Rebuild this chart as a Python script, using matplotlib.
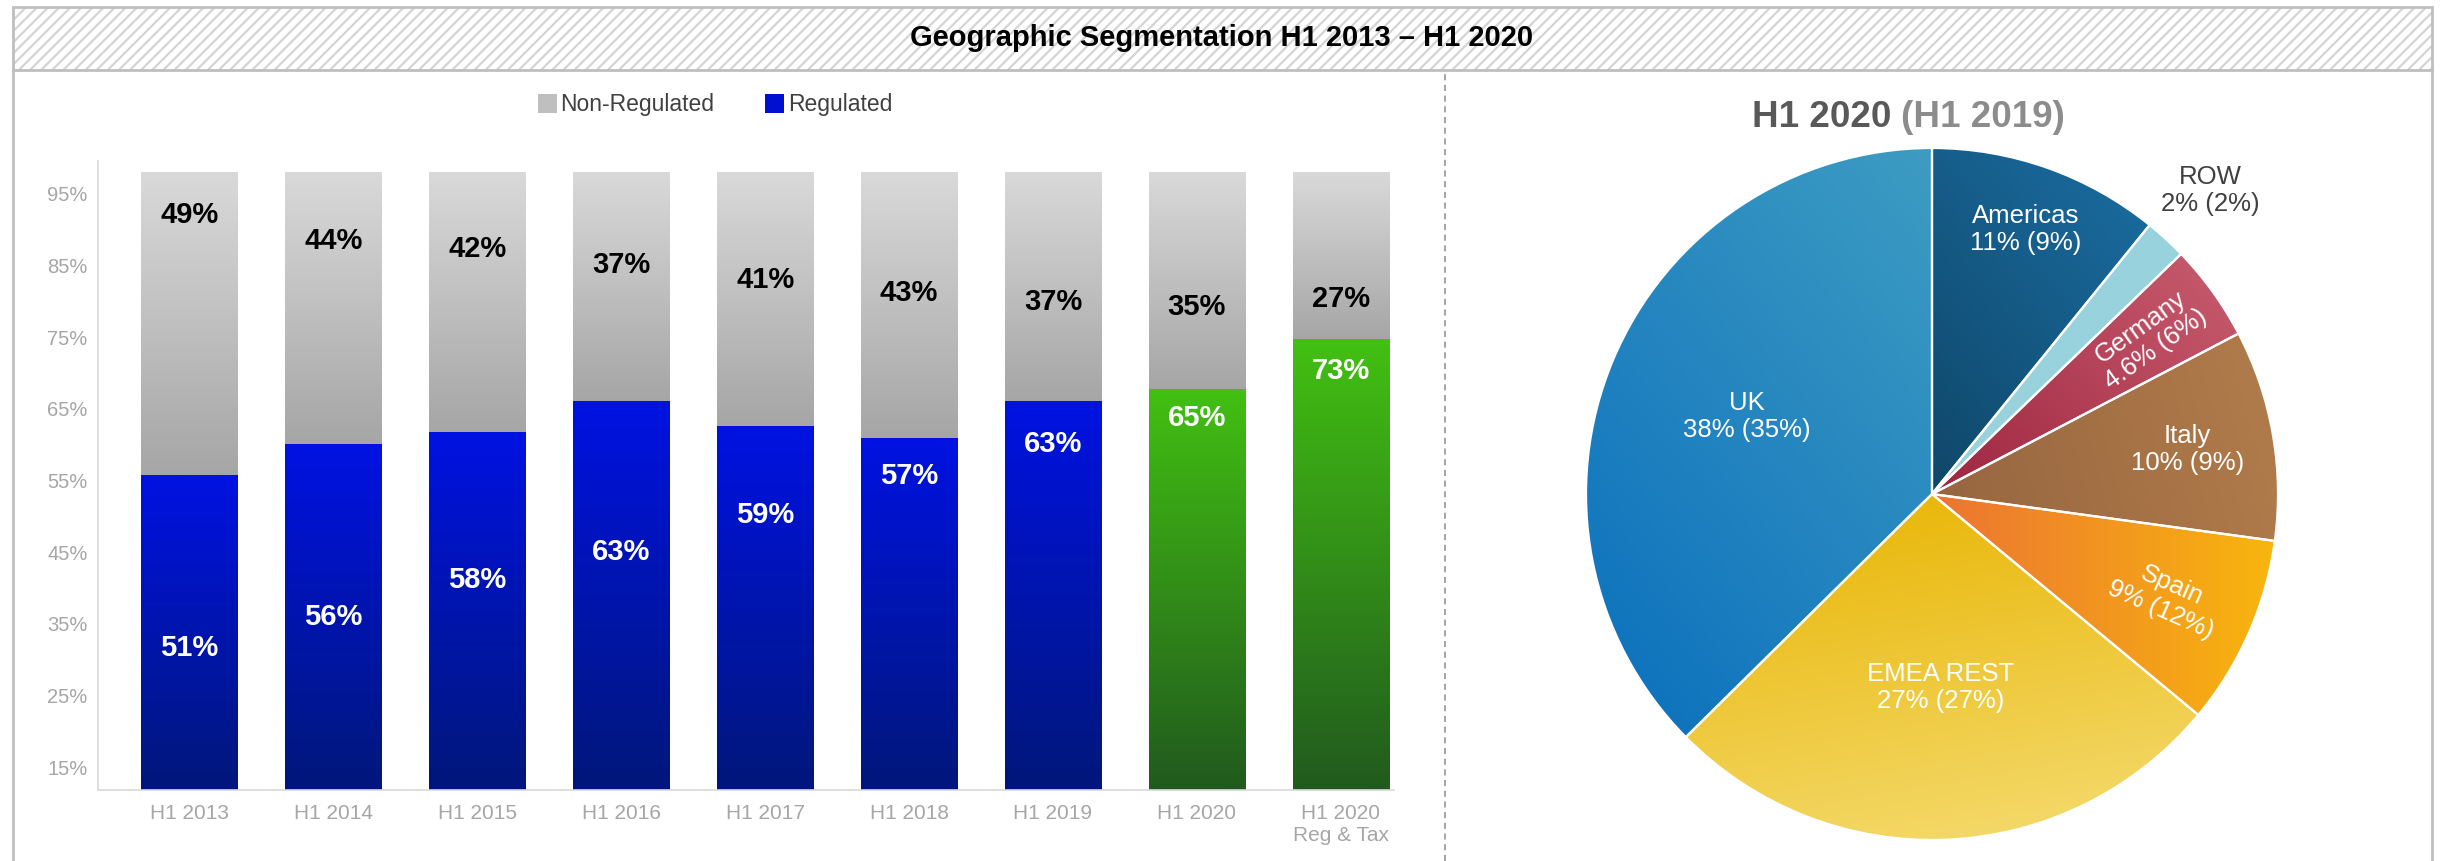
import numpy as np
import matplotlib
matplotlib.use('Agg')
import matplotlib.pyplot as plt
from matplotlib.colors import LinearSegmentedColormap
from matplotlib.patches import Rectangle, Patch
from matplotlib.lines import Line2D
from matplotlib.ticker import FuncFormatter

plt.rcParams['font.family'] = ['Liberation Sans', 'DejaVu Sans']
plt.rcParams['hatch.linewidth'] = 1.6

# stacked bars: regulated vs non-regulated share
periods = ['H1 2013', 'H1 2014', 'H1 2015', 'H1 2016', 'H1 2017',
           'H1 2018', 'H1 2019', 'H1 2020', 'H1 2020\nReg & Tax']
regulated = [51, 56, 58, 63, 59, 57, 63, 65, 73]
non_regulated = [49, 44, 42, 37, 41, 43, 37, 35, 27]

# pie: H1 2020 share, H1 2019 in brackets
regions = ['Americas', 'ROW', 'Germany', 'Italy', 'Spain', 'EMEA REST', 'UK']
share_2020 = [11, 2, 4.6, 10, 9, 27, 38]
share_2019 = [9, 2, 6, 9, 12, 27, 35]

# layout: label heights on the bar axis, pie label radii
reg_label_y = [23, 28, 34, 38.6, 44.6, 50.9, 56, 60.3, 67.9]
nonreg_label_y = [93.2, 89, 87.7, 85, 82.7, 80.5, 79, 78.2, 79.5]
highlight = [False] * 7 + [True] * 2
pie_label_r = [0.81, 1.19, 0.77, 0.75, 0.74, 0.56, 0.58]
pie_label_rotate = [False, False, True, False, True, False, False]
pie_label_color = ['white', '#404040', 'white', 'white', 'white', 'white', 'white']
# (start colour, end colour, gradient direction in degrees)
pie_fills = [('#0f4769', '#1b6ea3', 40),
             ('#98d2dc', '#98d2dc', 0),
             ('#9e2640', '#c95d70', 45),
             ('#966540', '#b27d4b', 15),
             ('#ec7432', '#f8b60e', 0),
             ('#e8b400', '#f5dc72', -80),
             ('#0a6fbd', '#3e9cc2', 40)]

GREY = ('#a6a6a6', '#d9d9d9')
BLUE = ('#00177a', '#0012e2')
GREEN = ('#215a1e', '#42c012')

W, H = 2445, 861


def box(left, top, right, bottom):
    return [left / W, 1 - bottom / H, (right - left) / W, (bottom - top) / H]


def fill_gradient(ax, extent, c0, c1, angle, clip=None, zorder=1):
    x0, x1, y0, y1 = extent
    X, Y = np.meshgrid(np.linspace(x0, x1, 200), np.linspace(y0, y1, 200))
    a = np.deg2rad(angle)
    d = X * np.cos(a) + Y * np.sin(a)
    span = d.max() - d.min()
    t = (d - d.min()) / span if span > 0 else np.zeros_like(d)
    cmap = LinearSegmentedColormap.from_list('grad', [c0, c1])
    im = ax.imshow(t, extent=extent, origin='lower', cmap=cmap, vmin=0, vmax=1,
                   aspect='auto', interpolation='bilinear', zorder=zorder)
    if clip is not None:
        im.set_clip_path(clip)
    return im


fig = plt.figure(figsize=(W / 100, H / 100), dpi=100)

# ---- bar chart ----
ax = fig.add_axes(box(98, 161, 1394, 790))
x = np.arange(len(periods))
reg_bars = ax.bar(x, regulated, width=0.67, color='none', linewidth=0)
non_bars = ax.bar(x, non_regulated, width=0.67, bottom=regulated, color='none', linewidth=0)

for i, (rb, nb) in enumerate(zip(reg_bars, non_bars)):
    for bar, (cbot, ctop) in ((rb, GREEN if highlight[i] else BLUE), (nb, GREY)):
        ext = (bar.get_x(), bar.get_x() + bar.get_width(),
               bar.get_y(), bar.get_y() + bar.get_height())
        fill_gradient(ax, ext, cbot, ctop, 90)
    ax.text(x[i], reg_label_y[i], f'{regulated[i]}%', ha='center', va='center',
            color='white', fontsize=21, fontweight='bold')
    ax.text(x[i], nonreg_label_y[i], f'{non_regulated[i]}%', ha='center', va='center',
            color='black', fontsize=21, fontweight='bold')

top = 101.9
ax.set_xlim(-0.636, 8.37)
ax.set_ylim(0, top)
ax.set_xticks(x, periods)
ax.set_yticks([])
ax.tick_params(axis='x', length=0, pad=10, labelsize=15, labelcolor='#a6a6a6')
for s in ('top', 'right'):
    ax.spines[s].set_visible(False)
for s in ('left', 'bottom'):
    ax.spines[s].set_color('#d9d9d9')
    ax.spines[s].set_linewidth(1.2)

# percentage scale printed along the left edge
lo, hi = 11.8, 99.6
sec = ax.secondary_yaxis('left', functions=(lambda v: lo + v * (hi - lo) / top,
                                            lambda s: (s - lo) * top / (hi - lo)))
sec.set_yticks(range(15, 100, 10))
sec.yaxis.set_major_formatter(FuncFormatter(lambda v, p: f'{v:.0f}%'))
sec.tick_params(length=0, pad=7.5, labelsize=14.5, labelcolor='#a6a6a6')
sec.spines['left'].set_visible(False)

handles = [Patch(facecolor='#bfbfbf', edgecolor='none', label='Non-Regulated'),
           Patch(facecolor='#0010d0', edgecolor='none', label='Regulated')]
fig.legend(handles=handles, loc='center', bbox_to_anchor=(715 / W, 1 - 105 / H),
           ncol=2, frameon=False, fontsize=16.5, handlelength=0.85, handleheight=0.85,
           handletextpad=0.15, columnspacing=2.2, labelcolor='#404040')

# ---- pie chart ----
pax = fig.add_axes(box(1572, 134, 2292, 854))
wedges, _ = pax.pie(share_2020, startangle=90, counterclock=False, radius=1,
                    wedgeprops=dict(facecolor='none', edgecolor='white',
                                    linewidth=1.6, zorder=3))
for w, (c0, c1, ang) in zip(wedges, pie_fills):
    bb = w.get_path().get_extents()
    fill_gradient(pax, (bb.x0, bb.x1, bb.y0, bb.y1), c0, c1, ang, clip=w)

for w, name, v20, v19, r, rot, col in zip(wedges, regions, share_2020, share_2019,
                                          pie_label_r, pie_label_rotate, pie_label_color):
    mid = (w.theta1 + w.theta2) / 2
    a = np.deg2rad(mid)
    pax.text(r * np.cos(a), r * np.sin(a), f'{name}\n{v20:g}% ({v19:g}%)',
             ha='center', va='center', rotation=mid if rot else 0,
             rotation_mode='anchor', color=col, fontsize=18.5, linespacing=1.15, zorder=4)

lim = 360 / 346
pax.set_xlim(-lim, lim)
pax.set_ylim(-lim, lim)
pax.set_aspect('auto')
pax.axis('off')

fig.text(1891 / W, 1 - 127 / H, 'H1 2020', ha='right', va='baseline',
         fontsize=26.5, fontweight='bold', color='#595959')
fig.text(1901 / W, 1 - 127 / H, '(H1 2019)', ha='left', va='baseline',
         fontsize=26.5, fontweight='bold', color='#8c8c8c')

# ---- header band and frame ----
band = (13 / W, 1 - 70 / H)
fig.add_artist(Rectangle(band, (2432 - 13) / W, 63 / H, transform=fig.transFigure,
                         facecolor='white', edgecolor='#d4d4d4', hatch='///', linewidth=0))
fig.add_artist(Rectangle(band, (2432 - 13) / W, 63 / H, transform=fig.transFigure,
                         fill=False, edgecolor='#bfbfbf', linewidth=2))
fig.text(1222 / W, 1 - 38 / H, 'Geographic Segmentation H1 2013 \u2013 H1 2020',
         ha='center', va='center', fontsize=21, fontweight='bold', color='black')

for xp in (13, 2432):
    fig.add_artist(Line2D([xp / W, xp / W], [0, 1 - 70 / H], transform=fig.transFigure,
                          color='#bfbfbf', linewidth=2))
fig.add_artist(Line2D([1445 / W, 1445 / W], [0, 1 - 70 / H], transform=fig.transFigure,
                      color='#8c8c8c', linewidth=1.1, dashes=(4, 3)))

fig.savefig('out.png', dpi=100)
